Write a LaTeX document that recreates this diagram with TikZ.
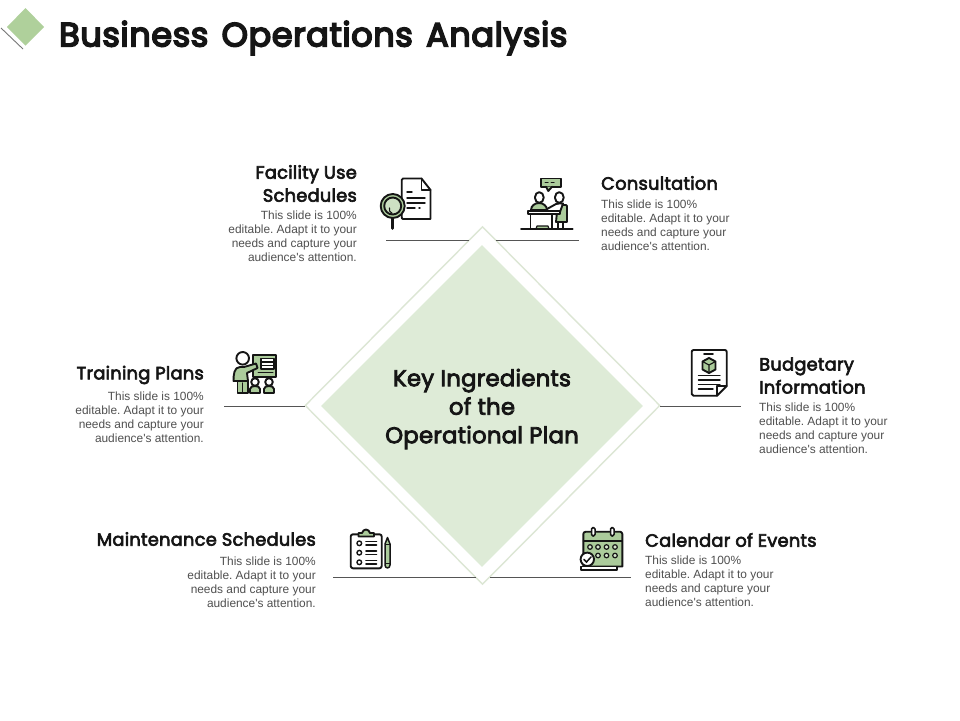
\documentclass[tikz,border=0pt]{standalone}
\usepackage{fontspec}
\usetikzlibrary{shapes.geometric}
\setmainfont{Liberation Sans}
\newfontfamily\bodyfont{Liberation Sans}
\newfontfamily\headfont[FakeBold=3.5,LetterSpace=1.5]{Poppins}
\newfontfamily\centrefont[FakeBold=3.5,LetterSpace=1]{Poppins}
\newfontfamily\titlefont[FakeBold=5,LetterSpace=1.8,WordSpace=1.4]{Poppins}
\definecolor{leaf}{HTML}{ABCB9B}
\definecolor{logoleaf}{HTML}{AFD09B}
\definecolor{pale}{HTML}{DEEBD7}
\definecolor{edge}{HTML}{DCE6D4}
\definecolor{ink}{HTML}{151515}
\definecolor{bodygray}{HTML}{505050}
\definecolor{rulegray}{HTML}{555555}
\tikzset{
  headtext/.style={inner sep=0pt,text=ink,font=\headfont\fontsize{17.8}{23}\selectfont},
  bodytext/.style={inner sep=0pt,text=bodygray,font=\bodyfont\frenchspacing\fontsize{11.9}{14}\selectfont},
  rulerline/.style={rulegray,line width=0.9pt},
  ic/.style={draw=ink,line width=1.9pt,line join=round,line cap=round},
  icg/.style={ic,fill=leaf},
  icw/.style={ic,fill=white},
  thin/.style={ink,line width=1.4pt,line cap=round},
  dotk/.style={draw=ink,line width=1.4pt,fill=white}
}
\begin{document}
\begin{tikzpicture}[x=1pt,y=-1pt]
\useasboundingbox (0,0) rectangle (960,720);
\fill[white] (0,0) rectangle (960,720);
% logo
\draw[rulegray!80,line width=0.9pt] (1,28) -- (23,49);
\fill[logoleaf] (25.5,8) -- (44,27) -- (25.5,45.5) -- (7,27) -- cycle;
\node[anchor=west,inner sep=0pt,text=ink,font=\titlefont\fontsize{33.5}{36}\selectfont] (title) at (59,38) {Business Operations Analysis};
% diamonds
\node[diamond,draw=edge,line width=1.4pt,minimum width=355pt,minimum height=358pt,inner sep=0pt] (outer) at (482.5,405.5) {};
\node[diamond,fill=pale,minimum width=322pt,minimum height=322pt,inner sep=0pt] (inner) at (482,406) {};
\node[align=center,inner sep=0pt,text=ink,font=\centrefont\fontsize{22.8}{28.5}\selectfont] (centre) at (482,409) {Key Ingredients\\of the\\Operational Plan};
% connectors
\coordinate (fa) at (386,240.5); \coordinate (fb) at (469,240.5);
\coordinate (ca) at (496,240.5); \coordinate (cb) at (579,240.5);
\coordinate (ta) at (224,406); \coordinate (tb) at (305,406);
\coordinate (ba) at (660,406); \coordinate (bb) at (741,406);
\coordinate (ma) at (333,577.5); \coordinate (mb) at (476,577.5);
\coordinate (ea) at (490,577.5); \coordinate (eb) at (631,577.5);
\draw[rulerline] (fa) -- (fb);
\draw[rulerline] (ca) -- (cb);
\draw[rulerline] (ta) -- (tb);
\draw[rulerline] (ba) -- (bb);
\draw[rulerline] (ma) -- (mb);
\draw[rulerline] (ea) -- (eb);
% texts
\node[headtext,anchor=east,align=right] (h1) at (357,183.5) {Facility Use\\Schedules};
\node[bodytext,anchor=east,align=right] (b1) at (357,236) {This slide is 100\%\\editable. Adapt it to your\\needs and capture your\\audience's attention.};
\node[headtext,anchor=west] (h2) at (601,183) {Consultation};
\node[bodytext,anchor=west,align=left] (b2) at (601,225) {This slide is 100\%\\editable. Adapt it to your\\needs and capture your\\audience's attention.};
\node[headtext,anchor=east] (h3) at (204,375) {Training Plans};
\node[bodytext,anchor=east,align=right] (b3) at (204,417) {This slide is 100\%\\editable. Adapt it to your\\needs and capture your\\audience's attention.};
\node[headtext,anchor=west,align=left] (h4) at (759,375.5) {Budgetary\\Information};
\node[bodytext,anchor=west,align=left] (b4) at (759,428) {This slide is 100\%\\editable. Adapt it to your\\needs and capture your\\audience's attention.};
\node[headtext,anchor=east] (h5) at (316,539) {Maintenance Schedules};
\node[bodytext,anchor=east,align=right] (b5) at (316,582) {This slide is 100\%\\editable. Adapt it to your\\needs and capture your\\audience's attention.};
\node[headtext,anchor=west] (h6) at (645,540) {Calendar of Events};
\node[bodytext,anchor=west,align=left] (b6) at (645,581) {This slide is 100\%\\editable. Adapt it to your\\needs and capture your\\audience's attention.};
% icon: facility
\draw[icw] (403,178.5) -- (421.5,178.5) -- (430.5,190) -- (430.5,219) -- (403,219) to[out=180,in=-90] (401.7,217) -- (401.7,180) to[out=90,in=180] cycle;
\draw[ic] (421.5,178.5) -- (421.5,190) -- (430.5,190);
\draw[thin] (407,192) -- (412,192) (407,198) -- (425,198) (407,203) -- (425,203) (407,208) -- (415,208) (419,208) -- (420,208);
\draw[ic,line width=2.8pt] (392.7,218) -- (392.7,228.5);
\draw[icg] (392.7,206) circle (12);
\draw[icg,fill=leaf!60] (392.7,206) circle (8.5);
\draw[thin,line width=1.1pt] (389.5,208) arc (200:110:4);
% icon: consultation
\draw[icg] (541.3,178.5) rectangle (561,186.7);
\draw[icg] (546,186.7) -- (548.3,191) -- (552,186.7);
\draw[thin,line width=1pt,dashed] (545,182.5) -- (557,182.5);
\draw[icg] (557,212) -- (557,205) -- (566,205) to[out=0,in=90] (567,208) -- (567,222) -- (556,222) -- cycle;
\draw[icg] (531,210) to[out=90,in=180] (539,203) to[out=0,in=90] (547,210) -- cycle;
\draw[icw] (539.3,197.5) ellipse (4.4 and 5.4);
\draw[icw] (559.3,197.5) ellipse (4.4 and 5.4);
\draw[icw] (547,209) -- (556,204) to[out=40,in=200] (563,203.5) -- (560,212) -- (547,212) -- cycle;
\draw[icw] (527.7,210.7) rectangle (560,214.3);
\draw[ic] (530.5,214.3) -- (530.5,229) (552,214.3) -- (552,229);
\draw[icg,line width=1.2pt] (536,229) -- (537,226) -- (548,226) -- (549,229);
\draw[ic] (558,222) -- (558,229) (563,222) -- (563,229);
\draw[ic] (521,229) -- (572.7,229);
% icon: training
\draw[icg] (253.3,355) rectangle (276,376.7);
\draw[icw,line width=1.2pt] (261,358.5) rectangle (274,369);
\draw[thin] (262,362) -- (273,362) (262,365.5) -- (273,365.5);
\draw[thin,line width=1pt] (258,372.5) -- (273,372.5);
\draw[icg] (233.5,381) to[out=90,in=180] (240,367) -- (244,367) -- (256,363.5) -- (257.5,368) -- (247,373) -- (248,381) -- cycle;
\draw[icg] (237.5,381) -- (248,381) -- (248,393) -- (237.5,393) -- cycle;
\draw[ic,line width=1.2pt] (242.7,383) -- (242.7,393);
\draw[icw] (242.7,358.3) circle (6.3);
\draw[icg] (250,393) -- (250,389) to[out=90,in=180] (255,386) to[out=0,in=90] (260,389) -- (260,393) -- cycle;
\draw[icg] (264,393) -- (264,389) to[out=90,in=180] (269,386) to[out=0,in=90] (274,389) -- (274,393) -- cycle;
\draw[icw] (255,382) circle (3.8);
\draw[icw] (269,382) circle (3.8);
% icon: budget
\draw[icw] (693.5,350) -- (725,350) to[out=0,in=90] (726.7,352) -- (726.7,386) -- (717,395.7) -- (693.5,395.7) to[out=180,in=-90] (691.7,394) -- (691.7,352) to[out=90,in=180] cycle;
\draw[ic] (726.7,386) -- (717,386) -- (717,395.7);
\draw[thin,line width=1.8pt] (704,354.3) -- (713,354.3);
\draw[icg] (709,358) -- (715.5,361.5) -- (715.5,369.5) -- (709,373) -- (702.5,369.5) -- (702.5,361.5) -- cycle;
\draw[ic,line width=1.1pt] (702.5,361.5) -- (709,365) -- (715.5,361.5) (709,365) -- (709,373);
\draw[thin] (698.5,375.5) -- (720,375.5) (698.5,380) -- (720,380) (698.5,384.5) -- (720,384.5) (698.5,389) -- (713,389);
% icon: maintenance
\draw[icw] (353,534.3) -- (379.5,534.3) to[out=0,in=90] (381.7,536.5) -- (381.7,566) to[out=-90,in=0] (379.5,568.3) -- (353,568.3) to[out=180,in=-90] (350.7,566) -- (350.7,536.5) to[out=90,in=180] cycle;
\draw[icg] (358.5,536.5) -- (358.5,533) -- (362,533) to[out=70,in=180] (366,529.5) to[out=0,in=110] (370,533) -- (374,533) -- (374,536.5) -- cycle;
\draw[dotk] (359.3,543.3) circle (2.3);
\draw[dotk] (359.3,552.7) circle (2.3);
\draw[dotk] (359.3,562.3) circle (2.3);
\draw[thin,line width=1.7pt] (366,541.5) -- (376.5,541.5) (366,545) -- (376.5,545) (366,551) -- (376.5,551) (366,554.5) -- (376.5,554.5) (366,560.5) -- (376.5,560.5) (366,564) -- (376.5,564);
\draw[icg,line width=1.5pt] (385,544) -- (387.5,537.5) -- (390,544) -- (390,565) to[out=-90,in=0] (387.5,568) to[out=180,in=-90] (385,565) -- cycle;
\draw[ink,line width=1pt] (385,544) -- (390,544) (385,563) -- (390,563);
% icon: calendar
\draw[icg] (586,531.7) -- (620,531.7) to[out=0,in=90] (622.3,534) -- (622.3,566.5) -- (583.3,566.5) -- (583.3,534) to[out=90,in=180] cycle;
\draw[ic,line width=1.2pt] (583.3,541) -- (622.3,541);
\draw[icw,line width=1.5pt,rounded corners=1.5pt] (591.5,527.5) rectangle (595,536);
\draw[icw,line width=1.5pt,rounded corners=1.5pt] (610.5,527.5) rectangle (614,536);
\foreach \i/\cx/\cy in {1/590/547,2/598/547,3/606.5/547,4/615/547,5/598/555.5,6/606.5/555.5,7/615/555.5}
  \draw[ink,line width=1.2pt,fill=leaf!50] (\cx,\cy) circle (2.3);
\draw[icw,line width=1.6pt] (581,566.5) rectangle (617,570);
\draw[icw] (587.3,559.3) circle (6.7);
\draw[thin,line width=1.5pt] (584,559.5) -- (586.5,562) -- (591,557);
\end{tikzpicture}
\end{document}
